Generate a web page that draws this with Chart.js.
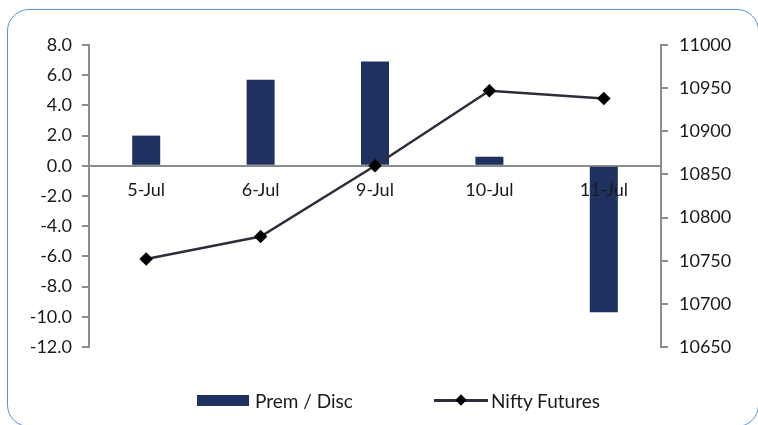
<!DOCTYPE html>
<html lang="en">
<head>
<meta charset="UTF-8">
<title>Prem / Disc vs Nifty Futures</title>
<script src="https://cdn.jsdelivr.net/npm/chart.js"></script>
<style>
    html, body { margin: 0; padding: 0; background: #fff; }
    body { width: 758px; height: 425px; position: relative; overflow: hidden; font-family: Lato, sans-serif; }
    .frame {
        position: absolute; left: 7px; top: 9px; width: 752px; height: 418px;
        border: 1.5px solid #5b8fd6; border-radius: 22px; box-sizing: border-box;
    }
    .chart-box { position: absolute; left: 0; top: 0; width: 758px; height: 425px; }
    .legend { position: absolute; top: 388px; left: 0; width: 758px; height: 24px; font-size: 19px; color: #1a1a1a; }
    .legend .item { position: absolute; top: 0; display: flex; align-items: center; height: 24px; }
    .swatch-bar { width: 52px; height: 11px; background: #1f3160; margin-right: 6px; }
    .swatch-line { width: 54px; height: 3px; background: #2d2d3d; position: relative; margin-right: 3px; }
    .swatch-line::after {
        content: ""; position: absolute; left: 23px; top: -3px; width: 8px; height: 8px;
        background: #000; transform: rotate(45deg);
    }
</style>
</head>
<body>
<div class="frame"></div>
<div class="chart-box"><canvas id="chartCanvas"></canvas></div>
<div class="legend">
    <div class="item" style="left:197px"><div class="swatch-bar"></div><span>Prem / Disc</span></div>
    <div class="item" style="left:434px"><div class="swatch-line"></div><span>Nifty Futures</span></div>
</div>
<script>
    const categories = ['5-Jul', '6-Jul', '9-Jul', '10-Jul', '11-Jul'];
    const premDisc = [2.0, 5.7, 6.9, 0.6, -9.7];
    const niftyFutures = [10752, 10778, 10860, 10947, 10938];

    const axisGrey = '#8c8c8c';
    const textColor = '#1a1a1a';
    const tickFont = { family: 'Lato', size: 18 };

    const ctx = document.getElementById('chartCanvas').getContext('2d');
    new Chart(ctx, {
        data: {
            labels: categories,
            datasets: [
                {
                    type: 'line',
                    label: 'Nifty Futures',
                    data: niftyFutures,
                    yAxisID: 'y1',
                    borderColor: '#2d2d3d',
                    borderWidth: 2.5,
                    pointStyle: 'rectRot',
                    pointRadius: 5,
                    pointBackgroundColor: '#000',
                    pointBorderColor: '#000',
                    tension: 0
                },
                {
                    type: 'bar',
                    label: 'Prem / Disc',
                    data: premDisc,
                    yAxisID: 'y',
                    backgroundColor: '#1f3160',
                    barPercentage: 0.245,
                    categoryPercentage: 1
                }
            ]
        },
        options: {
            responsive: true,
            maintainAspectRatio: false,
            animation: false,
            layout: { padding: { top: 45, bottom: 78, left: 0, right: 0 } },
            plugins: { legend: { display: false }, tooltip: { enabled: false } },
            scales: {
                x: {
                    position: { y: 0 },
                    grid: { display: false, drawTicks: false },
                    border: { color: axisGrey, width: 2 },
                    ticks: { color: textColor, font: tickFont, padding: 14, z: 1 }
                },
                y: {
                    position: 'left',
                    min: -12, max: 8,
                    afterFit: s => { s.width = 89; },
                    grid: { drawOnChartArea: false, drawTicks: true, tickLength: 7, color: axisGrey, lineWidth: 2 },
                    border: { color: axisGrey, width: 2 },
                    ticks: { stepSize: 2, color: textColor, font: tickFont, padding: 10,
                             callback: v => v.toFixed(1) }
                },
                y1: {
                    position: 'right',
                    min: 10650, max: 11000,
                    afterFit: s => { s.width = 97; },
                    grid: { drawOnChartArea: false, drawTicks: true, tickLength: 7, color: axisGrey, lineWidth: 2 },
                    border: { color: axisGrey, width: 2 },
                    ticks: { stepSize: 50, color: textColor, font: tickFont, padding: 11,
                             callback: v => String(v) }
                }
            }
        }
    });
</script>
</body>
</html>
